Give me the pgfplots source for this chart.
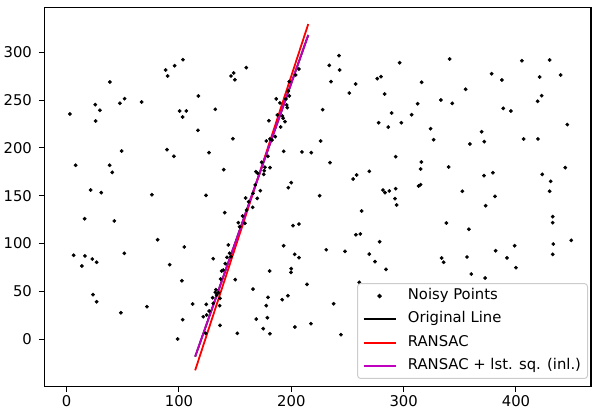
\documentclass[border=0pt]{standalone}
\usepackage{fontspec}
\setmainfont{DejaVu Sans}
\usepackage{pgfplots}
\pgfplotsset{compat=1.18}
\definecolor{mplred}{HTML}{FF0000}
\definecolor{mplmag}{HTML}{BF00BF}

\pgfplotstableread{
x y
2.9 235.5
25.5 245.2
29.6 239.3
25.8 228.1
38.5 268.9
47.4 246.6
51.6 251.5
66.8 248.0
88.1 281.5
89.9 275.2
96.1 286.0
103.5 292.3
117.2 254.3
100.6 238.6
106.5 238.6
103.3 232.3
132.3 240.4
116.9 218.4
146.3 275.2
148.7 278.4
149.8 271.3
159.9 283.9
206.8 282.5
203.9 276.3
198.2 269.3
197.3 259.5
198.2 254.3
195.2 251.2
186.6 251.2
189.9 247.0
195.9 244.9
196.4 242.1
187.5 234.4
192.0 233.4
192.8 231.0
194.4 227.4
180.1 228.4
190.5 221.8
233.8 286.4
242.4 296.5
243.0 281.5
235.3 269.3
257.3 266.8
251.6 257.4
227.9 240.0
276.5 272.4
279.8 274.5
296.4 289.1
283.1 256.4
289.3 236.5
307.1 234.7
277.8 226.3
286.3 221.8
297.9 226.3
340.9 293.0
316.0 268.6
312.5 246.2
324.0 220.1
333.2 250.1
343.3 246.6
355.2 261.3
378.3 277.6
387.5 271.0
405.3 291.2
430.0 292.0
421.1 274.2
439.8 276.3
422.9 254.6
419.3 248.7
388.7 241.3
395.5 238.6
445.7 224.4
369.4 216.9
8.0 181.8
49.0 196.7
38.3 181.8
40.6 174.4
21.4 155.9
30.8 153.1
16.0 125.9
42.4 123.5
89.3 198.1
95.5 191.2
126.7 195.0
139.8 177.2
75.9 151.0
124.0 150.3
140.7 132.2
81.0 103.9
104.7 96.3
143.9 98.4
6.2 87.6
16.3 86.9
22.8 83.7
51.3 89.7
130.5 84.0
142.7 85.5
148.0 209.6
177.7 207.2
181.0 209.3
182.8 208.2
185.7 211.7
179.2 191.2
173.6 184.9
176.5 179.7
175.9 176.1
181.0 179.3
168.5 175.1
170.0 173.4
175.4 172.3
167.9 161.2
172.4 155.2
165.9 152.5
169.7 147.2
159.3 147.6
165.6 137.8
162.0 143.7
160.2 135.0
156.7 128.7
152.8 121.7
154.0 117.5
158.7 121.1
145.1 89.7
146.3 86.1
193.2 196.4
209.5 195.7
217.8 195.0
226.1 207.2
234.4 184.5
199.9 163.6
197.3 158.3
225.2 150.0
255.1 167.4
258.2 171.6
269.4 175.5
292.9 190.8
281.6 155.9
283.4 153.1
287.2 154.9
292.9 157.3
292.3 146.8
293.8 140.2
262.6 133.9
201.5 118.6
206.8 120.3
193.2 97.6
203.0 88.6
206.8 85.1
231.1 93.4
247.8 91.8
257.5 109.1
261.4 109.9
278.6 101.8
269.4 88.9
326.7 208.6
359.0 204.1
371.8 206.5
406.8 209.3
419.6 209.3
315.8 185.2
315.1 177.9
340.1 180.0
313.4 160.1
315.1 161.5
371.5 170.9
379.5 174.0
352.2 154.6
381.3 149.3
373.0 139.5
423.4 172.3
443.9 179.3
430.9 165.0
430.0 154.6
432.7 128.0
432.7 121.7
338.0 121.4
358.1 114.8
449.2 103.3
433.2 99.4
398.8 97.6
381.9 92.4
432.7 88.6
356.4 85.8
392.0 84.8
333.8 84.8
26.7 80.3
13.6 76.4
23.4 46.4
26.7 39.0
48.3 27.5
71.5 33.8
91.7 77.8
102.6 61.0
103.3 20.2
98.8 0.0
112.2 36.6
141.2 78.8
138.0 71.2
139.4 72.2
137.1 62.8
132.9 51.6
132.3 48.9
135.3 48.5
136.5 42.6
130.0 43.2
133.5 46.0
124.3 36.3
130.5 37.4
136.2 34.9
126.9 29.3
124.6 25.1
121.6 23.3
136.5 14.3
123.7 6.0
150.1 62.1
165.9 52.3
180.7 71.2
199.9 73.6
199.7 69.8
213.9 57.2
179.2 43.6
177.7 34.9
191.9 41.1
197.0 45.3
168.8 20.9
178.7 22.3
175.0 10.8
181.0 5.5
151.9 6.0
203.2 12.6
217.5 16.0
237.7 36.9
244.2 4.5
260.5 59.3
274.5 80.9
284.3 72.9
335.6 80.3
360.2 68.0
372.6 63.8
400.0 74.6
}\noisy

\begin{document}
\fontsize{14.8}{17}\selectfont
\begin{tikzpicture}
\useasboundingbox (-44.3pt,-24.3pt) rectangle (549.7pt,386.7pt);
\begin{axis}[
  at={(0,0)}, anchor=south west,
  scale only axis, width=546.7pt, height=379.4pt,
  xmin=-19.9, xmax=466.8, ymin=-49.9, ymax=347.1,
  xtick={0,100,...,400}, ytick={0,50,...,300},
  tick pos=left, tick align=outside,
  major tick length=5.3pt,
  every tick/.style={black, line width=1pt},
  axis line style={line width=1.1pt},
  /pgf/number format/assume math mode=true,
  ticklabel style={font=\fontsize{14.8}{17}\selectfont},
  yticklabel style={xshift=-2pt},
  xticklabel style={yshift=1.5pt},
  legend image code/.code={\draw[mark repeat=2,mark phase=2,#1]
    plot coordinates {(0pt,0pt) (16pt,0pt) (32pt,0pt)};},
  legend cell align=left,
  legend style={at={(1,0)}, anchor=south east, xshift=-3pt, yshift=7.7pt,
    draw=black!20, line width=1pt, rounded corners=3pt, fill=white,
    font=\fontsize{14.8}{17}\selectfont,
    inner xsep=5pt, inner ysep=4pt, row sep=6.3pt,
    /tikz/every odd column/.append style={column sep=10pt},
    nodes={inner sep=1.5pt, text height=10.5pt, text depth=3.5pt}},
]
\addplot[only marks, mark=*, mark size=1.7pt, black] table {\noisy};
\addlegendentry{Noisy Points}
\addplot[black, line width=1.8pt] coordinates {(114.4,-18.5) (215.1,318.1)};
\addlegendentry{Original Line}
\addplot[mplred, line width=1.8pt] coordinates {(114.4,-32.8) (215.1,329.6)};
\addlegendentry{RANSAC}
\addplot[mplmag, line width=1.8pt] coordinates {(114.4,-18.5) (215.1,318.1)};
\addlegendentry{RANSAC + lst. sq. (inl.)}
\end{axis}
\end{tikzpicture}
\end{document}
